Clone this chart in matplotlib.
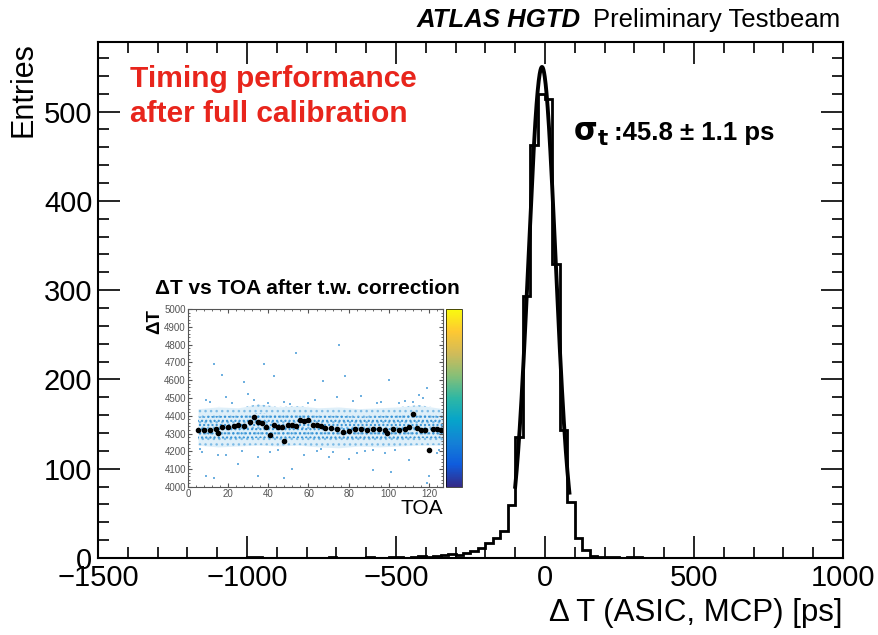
import matplotlib
matplotlib.use("Agg")
import matplotlib.pyplot as plt
import numpy as np
from matplotlib.colors import LinearSegmentedColormap
from matplotlib.ticker import MultipleLocator
from matplotlib.cm import ScalarMappable
from matplotlib.colors import Normalize

plt.rcParams["font.family"] = ["Liberation Sans", "DejaVu Sans"]

bin_width = 25
hist_start = -1000
hist_counts = [
    1, 1, 0, 0, 0, 0, 0, 0, 0, 0,          # -1000 .. -750
    0, 1, 0, 0, 0, 0, 1, 0, 0, 1,          # -750 .. -500
    1, 0, 1, 2, 1, 2, 3, 4, 3, 6,          # -500 .. -250
    8, 11, 17, 22, 30, 59, 136, 294, 463, 520,  # -250 .. 0
    514, 329, 143, 63, 22, 9, 2, 1, 1, 1,  # 0 .. 250
    0, 1, 1, 0,                            # 250 .. 350
]
x_range = (-1500, 1000)

# gaussian fit
fit_mean = -10.0
fit_sigma = 45.8
fit_amp = 550.0
fit_range = (-100, 82)

# inset: profile of dT vs TOA after time-walk correction
prof_toa = [5, 8, 11, 14, 15, 17, 20, 23, 25, 28, 31, 33, 35, 37, 39, 41, 43,
            45, 47, 48, 50, 52, 54, 56, 58, 60, 62, 64, 66, 68, 71, 74, 77, 80,
            83, 86, 89, 92, 95, 98, 99, 102, 105, 108, 110, 112, 114, 116, 118,
            120, 122, 124, 126]
prof_dt = [4320, 4322, 4318, 4325, 4301, 4338, 4336, 4340, 4348, 4345, 4367,
           4395, 4367, 4360, 4338, 4290, 4348, 4338, 4335, 4260, 4348, 4350,
           4345, 4376, 4372, 4376, 4348, 4350, 4345, 4330, 4332, 4328, 4310,
           4312, 4323, 4325, 4320, 4323, 4323, 4320, 4301, 4323, 4320, 4325,
           4338, 4410, 4330, 4320, 4322, 4207, 4323, 4325, 4322]
# blue band edges (bulk of the 2D distribution)
band_toa = [5, 15, 25, 35, 45, 55, 65, 75, 85, 95, 105, 115, 127]
core_lo = [4270, 4265, 4270, 4275, 4270, 4275, 4270, 4265, 4270, 4265, 4270, 4275, 4272]
core_hi = [4395, 4400, 4400, 4415, 4405, 4410, 4400, 4400, 4395, 4398, 4402, 4410, 4395]
band_lo = [4235, 4225, 4230, 4235, 4230, 4235, 4225, 4220, 4230, 4225, 4230, 4235, 4235]
band_hi = [4440, 4450, 4445, 4465, 4450, 4455, 4445, 4450, 4440, 4445, 4450, 4460, 4440]
# sparse outliers
out_toa = [13, 17, 38, 54, 75, 78, 43, 28, 67, 100, 119, 7, 9, 13, 25, 35, 48,
           52, 80, 92, 101, 119, 120, 64, 86, 115, 105, 48, 19, 9, 63, 92, 103,
           41, 35, 19, 96, 74, 30, 58, 70, 110, 124, 22, 88, 11, 33, 45, 60,
           82, 98, 112, 6, 27, 51, 72, 94, 117, 15, 40, 66, 84, 108, 125]
out_dt = [4690, 4630, 4690, 4755, 4800, 4625, 4625, 4590, 4595, 4600, 4555,
          4195, 4060, 4050, 4130, 4060, 4050, 4100, 4160, 4095, 4085, 4020,
          4060, 4200, 4510, 4517, 4470, 4480, 4508, 4490, 4490, 4207, 4210,
          4198, 4170, 4179, 4480, 4508, 4520, 4180, 4170, 4150, 4190, 4470, 4200,
          4475, 4490, 4205, 4470, 4485, 4190, 4480, 4215, 4200, 4465, 4195,
          4470, 4500, 4180, 4470, 4215, 4190, 4485, 4210]

parula_colors = ["#352a87", "#0f5cdd", "#1481d6", "#06a4ca", "#2eb7a4",
                 "#87bf77", "#d1bb59", "#fec832", "#f9fb0e"]


def main():
    fig = plt.figure(figsize=(8.79, 6.35), dpi=100)
    ax = fig.add_axes([0.1115, 0.1213, 0.8475, 0.8126])

    edges = np.arange(x_range[0], x_range[1] + bin_width, bin_width)
    counts = np.zeros(len(edges) - 1)
    i0 = (hist_start - x_range[0]) // bin_width
    counts[i0:i0 + len(hist_counts)] = hist_counts
    ax.stairs(counts, edges, color="black", lw=2.0, baseline=None)

    xf = np.linspace(fit_range[0], fit_range[1], 300)
    yf = fit_amp * np.exp(-0.5 * ((xf - fit_mean) / fit_sigma) ** 2)
    ax.plot(xf, yf, color="black", lw=2.8)

    ax.set_xlim(*x_range)
    ax.set_ylim(0, 578)
    ax.xaxis.set_major_locator(MultipleLocator(500))
    ax.xaxis.set_minor_locator(MultipleLocator(100))
    ax.yaxis.set_major_locator(MultipleLocator(100))
    ax.yaxis.set_minor_locator(MultipleLocator(20))
    ax.tick_params(which="both", direction="in", top=True, right=True,
                   labelsize=21, width=1.2, pad=4)
    ax.tick_params(which="major", length=16)
    ax.tick_params(which="minor", length=8)
    for s in ax.spines.values():
        s.set_linewidth(1.5)

    ax.set_ylabel("Entries", fontsize=22, loc="top", labelpad=4)
    ax.set_xlabel("Δ T (ASIC, MCP) [ps]", fontsize=22.5, loc="right",
                  labelpad=5)

    fig.text(0.956, 0.968, "Preliminary Testbeam", fontsize=18.5,
             ha="right", va="center")
    fig.text(0.661, 0.968, "ATLAS HGTD", fontsize=18.5, fontweight="bold",
             style="italic", ha="right", va="center")

    ax.text(0.043, 0.955, "Timing performance\nafter full calibration",
            transform=ax.transAxes, color="#e8251c", fontsize=21.5,
            fontweight="bold", va="top", ha="left", linespacing=1.3)
    ax.text(0.6376, 0.8236, r"$\mathbf{\sigma_t}$", transform=ax.transAxes,
            fontsize=22, va="center", ha="left")
    ax.text(0.692, 0.8236, ":45.8 ± 1.1 ps", transform=ax.transAxes,
            fontsize=18.5, fontweight="bold", va="center", ha="left")

    # inset
    ins = fig.add_axes([0.2139, 0.2331, 0.2901, 0.2803])
    ins.fill_between(band_toa, band_lo, band_hi, color="#bfe0f5", alpha=0.5,
                     lw=0)
    ins.fill_between(band_toa, band_lo, band_hi, facecolor="none",
                     edgecolor="#7dbbe6", hatch="...", lw=0)
    ins.fill_between(band_toa, core_lo, core_hi, facecolor="none",
                     edgecolor="#2f8fd4", hatch="....", lw=0)
    ins.scatter(out_toa, out_dt, s=3, color="#6fb0e0", marker="s", lw=0)
    ins.plot(prof_toa, prof_dt, "o", color="black", ms=3.0)
    ins.set_xlim(0, 127)
    ins.set_ylim(4000, 5000)
    ins.xaxis.set_major_locator(MultipleLocator(20))
    ins.xaxis.set_minor_locator(MultipleLocator(4))
    ins.yaxis.set_major_locator(MultipleLocator(100))
    ins.yaxis.set_minor_locator(MultipleLocator(20))
    ins.tick_params(which="both", direction="in", top=True, right=True,
                    labelsize=7, labelcolor="#555555", color="#555555",
                    pad=1.5)
    ins.tick_params(which="major", length=3)
    ins.tick_params(which="minor", length=1.5)
    for s in ins.spines.values():
        s.set_linewidth(0.8)
        s.set_color("#555555")
    ins.set_ylabel("ΔT", fontsize=13.5, fontweight="bold", loc="top",
                   labelpad=1)
    ins.set_xlabel("TOA", fontsize=15, loc="right", labelpad=0)
    fig.text(0.176, 0.546, "ΔT vs TOA after t.w. correction", fontsize=15,
             fontweight="bold", ha="left", va="center")

    cax = fig.add_axes([0.5074, 0.2331, 0.0182, 0.2803])
    cmap = LinearSegmentedColormap.from_list("parula", parula_colors)
    cb = fig.colorbar(ScalarMappable(Normalize(0, 1), cmap=cmap), cax=cax)
    cb.set_ticks([])
    cb.outline.set_linewidth(0.5)

    fig.savefig("out.png", dpi=100)
    plt.close(fig)


if __name__ == "__main__":
    main()
